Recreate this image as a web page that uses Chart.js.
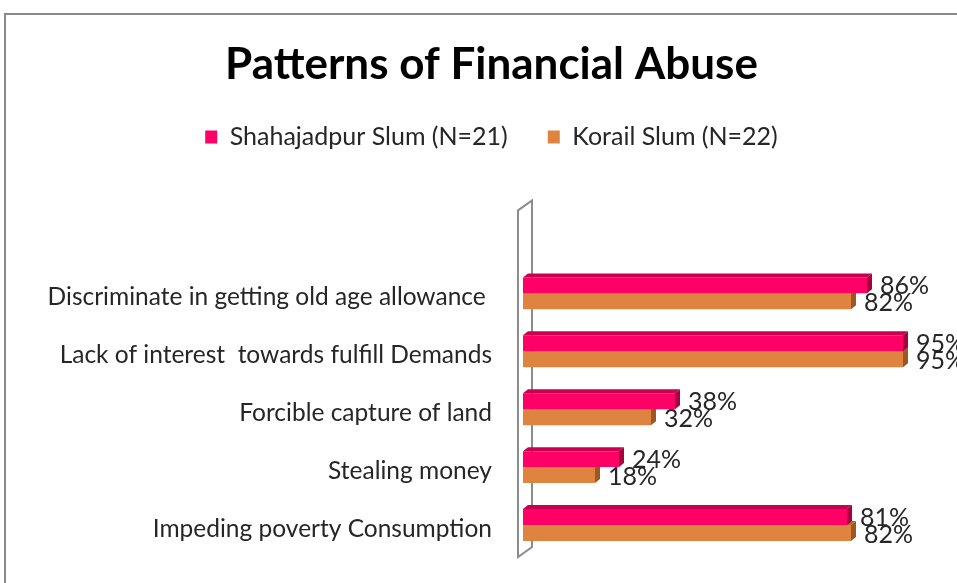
<!DOCTYPE html>
<html>
<head>
<meta charset="utf-8">
<title>Patterns of Financial Abuse</title>
<script src="https://cdn.jsdelivr.net/npm/chart.js@4/dist/chart.umd.min.js"></script>
<style>
  html, body { margin: 0; padding: 0; background: #fff; overflow: hidden; }
  #wrap { position: relative; width: 957px; height: 583px; }
</style>
</head>
<body>
<div id="wrap"><canvas id="chart"></canvas></div>
<script>
// data
const categories = [
    'Discriminate in getting old age allowance ',
    'Lack of interest  towards fulfill Demands',
    'Forcible capture of land',
    'Stealing money',
    'Impeding poverty Consumption'
];
const seriesNames = ['Shahajadpur Slum (N=21)', 'Korail Slum (N=22)'];
const shahajadpur = [86, 95, 38, 24, 81];
const korail = [82, 95, 32, 18, 82];

const faceColors = [
    { front: '#ff0066', top: '#c8004f', side: '#a8003f' },
    { front: '#de8440', top: '#b8662c', side: '#9c5824' }
];
const DX = 5, DY = 4;

// gray frame of the chart object
const framePlugin = {
    id: 'frame',
    beforeDraw(chart) {
        const ctx = chart.ctx;
        ctx.save();
        ctx.fillStyle = '#fff';
        ctx.fillRect(0, 0, chart.width, chart.height);
        ctx.strokeStyle = '#8a8a8a';
        ctx.lineWidth = 2;
        ctx.strokeRect(5, 14, chart.width + 20, chart.height + 20);
        ctx.restore();
    },
    // long category names must not be clipped by the left padding
    afterLayout(chart) {
        chart.scales.y.left = 0;
    }
};

// the 3-D back wall behind the bars
const wallPlugin = {
    id: 'wall',
    beforeDatasetsDraw(chart) {
        const ctx = chart.ctx;
        const a = chart.chartArea;
        const x0 = chart.scales.x.getPixelForValue(0);
        const l = x0 - 5, r = x0 + 9;
        ctx.save();
        ctx.strokeStyle = '#8c8c8c';
        ctx.lineWidth = 2;
        ctx.beginPath();
        ctx.moveTo(l, a.top - 54);
        ctx.lineTo(r, a.top - 64);
        ctx.lineTo(r, a.bottom - 7);
        ctx.lineTo(l, a.bottom + 3);
        ctx.closePath();
        ctx.stroke();
        ctx.restore();
    }
};

// top and side faces for the bars
const bar3dPlugin = {
    id: 'bar3d',
    afterDatasetDraw(chart, args) {
        const ctx = chart.ctx;
        const c = faceColors[args.index];
        ctx.save();
        args.meta.data.forEach(bar => {
            const p = bar.getProps(['x', 'y', 'base', 'height'], true);
            const top = p.y - p.height / 2, bottom = p.y + p.height / 2;
            ctx.fillStyle = c.top;
            ctx.beginPath();
            ctx.moveTo(p.base, top);
            ctx.lineTo(p.base + DX, top - DY);
            ctx.lineTo(p.x + DX, top - DY);
            ctx.lineTo(p.x, top);
            ctx.closePath();
            ctx.fill();
            ctx.fillStyle = c.side;
            ctx.beginPath();
            ctx.moveTo(p.x, top);
            ctx.lineTo(p.x + DX, top - DY);
            ctx.lineTo(p.x + DX, bottom - DY);
            ctx.lineTo(p.x, bottom);
            ctx.closePath();
            ctx.fill();
        });
        ctx.restore();
    }
};

// percent labels at the bar ends
const valueLabelPlugin = {
    id: 'valueLabels',
    afterDatasetsDraw(chart) {
        const ctx = chart.ctx;
        ctx.save();
        ctx.font = '25px Lato';
        ctx.fillStyle = '#262626';
        ctx.textBaseline = 'middle';
        ctx.textAlign = 'left';
        chart.data.datasets.forEach((ds, i) => {
            chart.getDatasetMeta(i).data.forEach((bar, j) => {
                ctx.fillText(ds.data[j] + '%', bar.x + 13, bar.y + (i === 0 ? 1 : 2));
            });
        });
        ctx.restore();
    }
};

new Chart(document.getElementById('chart'), {
    type: 'bar',
    data: {
        labels: categories,
        datasets: [{
            label: seriesNames[0],
            data: shahajadpur,
            backgroundColor: faceColors[0].front
        }, {
            label: seriesNames[1],
            data: korail,
            backgroundColor: faceColors[1].front
        }]
    },
    options: {
        indexAxis: 'y',
        responsive: true,
        maintainAspectRatio: false,
        animation: false,
        layout: { padding: { top: 14, left: 60, right: 34, bottom: 29 } },
        datasets: {
            bar: { barPercentage: 1, categoryPercentage: 0.55 }
        },
        scales: {
            x: {
                position: 'top',
                min: 0,
                max: 100,
                ticks: { display: false },
                grid: { display: false, drawTicks: false },
                border: { display: false },
                afterFit: s => { s.height = 105; }
            },
            y: {
                grid: { display: false, drawTicks: false },
                border: { display: false },
                ticks: {
                    padding: 31,
                    labelOffset: 4,
                    color: '#262626',
                    font: { family: 'Lato', size: 24.5 }
                },
                afterFit: s => {
                    s.width = 523 - 60;
                    s.paddingTop = 0;
                    s.paddingBottom = 0;
                }
            }
        },
        plugins: {
            title: {
                display: true,
                text: 'Patterns of Financial Abuse',
                color: '#000',
                font: { family: 'Lato', size: 44, weight: 'bold', lineHeight: 0.85 },
                padding: { top: 32, bottom: 1 }
            },
            legend: {
                position: 'top',
                labels: {
                    color: '#262626',
                    font: { family: 'Lato', size: 25 },
                    boxWidth: 12,
                    boxHeight: 13,
                    padding: 40
                }
            },
            tooltip: { enabled: false }
        }
    },
    plugins: [framePlugin, wallPlugin, bar3dPlugin, valueLabelPlugin]
});
</script>
</body>
</html>
